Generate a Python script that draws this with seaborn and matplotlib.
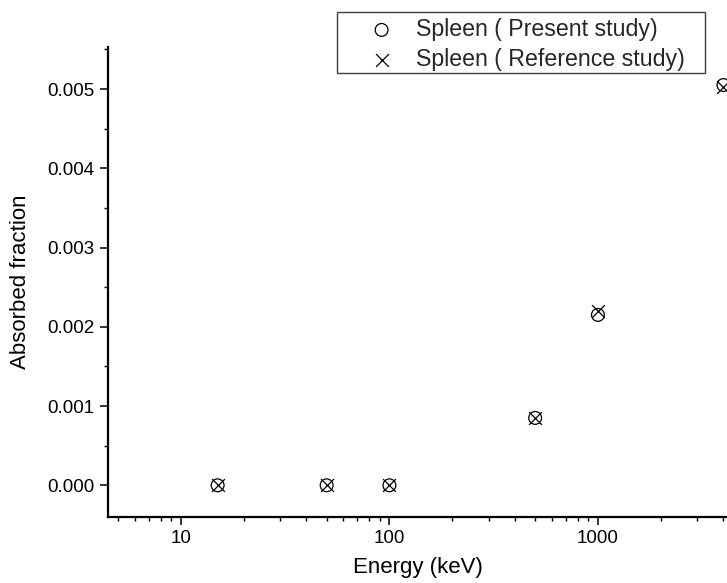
import matplotlib
matplotlib.use("Agg")
import matplotlib.pyplot as plt
import seaborn as sns
import pandas as pd
from matplotlib.patches import Rectangle
from matplotlib.ticker import FixedLocator, LogLocator, MultipleLocator, FormatStrFormatter, NullFormatter

# values
energy = [15, 50, 100, 500, 1000, 4000]
present = [0.0, 0.0, 0.0, 0.00085, 0.00215, 0.00505]
reference = [0.0, 0.0, 0.0, 0.00085, 0.0022, 0.00502]
xticks = [10, 100, 1000]
xtick_labels = ["10", "100", "1000"]

df_present = pd.DataFrame({"energy": energy, "af": present})
df_reference = pd.DataFrame({"energy": energy, "af": reference})

sns.set_theme(style="ticks")
plt.rcParams["font.family"] = ["Liberation Sans", "DejaVu Sans"]

W, H = 727, 583
fig = plt.figure(figsize=(W / 100, H / 100), dpi=100)
ax = fig.add_axes([108 / W, 1 - 517 / H, 1 - 108 / W, (517 - 47) / H])

sns.scatterplot(data=df_present, x="energy", y="af", ax=ax, marker="o", s=85,
                facecolor="none", edgecolor="black", linewidth=0.9,
                label="Spleen ( Present study)")
sns.scatterplot(data=df_reference, x="energy", y="af", ax=ax, marker="x", s=85,
                color="black", linewidth=0.9,
                label="Spleen ( Reference study)")

ax.set_xscale("log")
ax.set_xlim(4.47, 4160)
ax.set_ylim(-0.0004, 0.00553)

ax.xaxis.set_major_locator(FixedLocator(xticks))
ax.set_xticklabels(xtick_labels)
ax.xaxis.set_minor_locator(LogLocator(base=10, subs=range(2, 10)))
ax.xaxis.set_minor_formatter(NullFormatter())
ax.yaxis.set_major_locator(MultipleLocator(0.001))
ax.yaxis.set_minor_locator(MultipleLocator(0.0005))
ax.yaxis.set_major_formatter(FormatStrFormatter("%.3f"))

sns.despine(ax=ax)
for side in ["left", "bottom"]:
    ax.spines[side].set_linewidth(1.6)
    ax.spines[side].set_color("black")

ax.tick_params(which="major", direction="out", length=5.5, width=1.1,
               labelsize=13.5, color="black", labelcolor="black", pad=4)
ax.tick_params(which="minor", direction="out", length=3, width=1.0, color="black")

ax.set_xlabel("Energy (keV)", fontsize=16, labelpad=7, color="black")
ax.set_ylabel("Absorbed fraction", fontsize=16, labelpad=12, color="black")

# legend: box drawn separately so the wide side padding matches
handles, labels = ax.get_legend_handles_labels()
ax.get_legend().remove()
fig.add_artist(Rectangle((337 / W, 1 - 73 / H), (705 - 337) / W, (73 - 12) / H,
                         transform=fig.transFigure, facecolor="white",
                         edgecolor="#404040", linewidth=1.0, zorder=4))
leg = fig.legend(handles, labels, loc="upper left",
                 bbox_to_anchor=(370 / W, 1 - 18 / H), borderaxespad=0,
                 borderpad=0, fontsize=16.7, frameon=False,
                 handlelength=1.0, handletextpad=1.0, labelspacing=0.3)
leg.set_zorder(5)

fig.savefig("out.png", dpi=100)
